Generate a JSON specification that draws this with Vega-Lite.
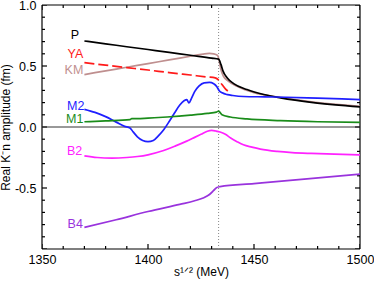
{
  "$schema": "https://vega.github.io/schema/vega-lite/v6.json",
  "width": 318,
  "height": 244,
  "autosize": "none",
  "padding": {"left": 42, "top": 5, "right": 14, "bottom": 35},
  "background": "white",
  "view": {"stroke": null},
  "datasets": {
    "xt": [{"s":1350,"m":"major"},{"s":1360,"m":"minor"},{"s":1370,"m":"minor"},{"s":1380,"m":"minor"},{"s":1390,"m":"minor"},{"s":1400,"m":"major"},{"s":1410,"m":"minor"},{"s":1420,"m":"minor"},{"s":1430,"m":"minor"},{"s":1440,"m":"minor"},{"s":1450,"m":"major"},{"s":1460,"m":"minor"},{"s":1470,"m":"minor"},{"s":1480,"m":"minor"},{"s":1490,"m":"minor"},{"s":1500,"m":"major"}],
    "yt": [{"v":-1,"m":"major"},{"v":-0.9,"m":"minor"},{"v":-0.8,"m":"minor"},{"v":-0.7,"m":"minor"},{"v":-0.6,"m":"minor"},{"v":-0.5,"m":"major"},{"v":-0.4,"m":"minor"},{"v":-0.3,"m":"minor"},{"v":-0.2,"m":"minor"},{"v":-0.1,"m":"minor"},{"v":0,"m":"major"},{"v":0.1,"m":"minor"},{"v":0.2,"m":"minor"},{"v":0.3,"m":"minor"},{"v":0.4,"m":"minor"},{"v":0.5,"m":"major"},{"v":0.6,"m":"minor"},{"v":0.7,"m":"minor"},{"v":0.8,"m":"minor"},{"v":0.9,"m":"minor"},{"v":1,"m":"major"}],
    "labels": [{"c":"P","s":1367.5,"v":0.751},{"c":"YA","s":1369.5,"v":0.595},{"c":"KM","s":1369.5,"v":0.469},{"c":"M2","s":1370,"v":0.175},{"c":"M1","s":1369.5,"v":0.068},{"c":"B2","s":1369,"v":-0.193},{"c":"B4","s":1369.3,"v":-0.796}]
  },
  "data": {"values": [
    {"c":"KM","s":1370,"v":0.43},{"c":"KM","s":1380,"v":0.46},{"c":"KM","s":1390,"v":0.49},{"c":"KM","s":1400,"v":0.52},{"c":"KM","s":1410,"v":0.55},{"c":"KM","s":1420,"v":0.58},{"c":"KM","s":1426,"v":0.598},{"c":"KM","s":1429,"v":0.603},{"c":"KM","s":1431,"v":0.6},{"c":"KM","s":1432.8,"v":0.587},{"c":"KM","s":1433.6,"v":0.54},{"c":"KM","s":1434.4,"v":0.47},{"c":"KM","s":1435.6,"v":0.416},{"c":"KM","s":1438,"v":0.375},{"c":"KM","s":1442,"v":0.334},{"c":"KM","s":1450,"v":0.282},{"c":"KM","s":1462.5,"v":0.243},{"c":"KM","s":1478,"v":0.204},{"c":"KM","s":1500,"v":0.17},
    {"c":"P","s":1370,"v":0.705},{"c":"P","s":1380,"v":0.682},{"c":"P","s":1390,"v":0.658},{"c":"P","s":1400,"v":0.635},{"c":"P","s":1410,"v":0.612},{"c":"P","s":1420,"v":0.588},{"c":"P","s":1430,"v":0.565},{"c":"P","s":1433.3,"v":0.556},{"c":"P","s":1434.4,"v":0.513},{"c":"P","s":1435.4,"v":0.458},{"c":"P","s":1437.3,"v":0.403},{"c":"P","s":1440.4,"v":0.356},{"c":"P","s":1446.7,"v":0.307},{"c":"P","s":1454.6,"v":0.266},{"c":"P","s":1462.5,"v":0.239},{"c":"P","s":1478,"v":0.2},{"c":"P","s":1500,"v":0.165},
    {"c":"YA","s":1370,"v":0.527},{"c":"YA","s":1380,"v":0.507},{"c":"YA","s":1390,"v":0.487},{"c":"YA","s":1400,"v":0.467},{"c":"YA","s":1410,"v":0.446},{"c":"YA","s":1420,"v":0.426},{"c":"YA","s":1428,"v":0.41},{"c":"YA","s":1431.7,"v":0.403},{"c":"YA","s":1433.8,"v":0.375},{"c":"YA","s":1434.9,"v":0.348},{"c":"YA","s":1436.5,"v":0.313},{"c":"YA","s":1438.5,"v":0.285},
    {"c":"M2","s":1370,"v":0.145},{"c":"M2","s":1375,"v":0.12},{"c":"M2","s":1380,"v":0.085},{"c":"M2","s":1385,"v":0.04},{"c":"M2","s":1389,"v":0.005},{"c":"M2","s":1391.5,"v":-0.008},{"c":"M2","s":1393,"v":-0.04},{"c":"M2","s":1395,"v":-0.08},{"c":"M2","s":1397.5,"v":-0.11},{"c":"M2","s":1400,"v":-0.12},{"c":"M2","s":1402.5,"v":-0.11},{"c":"M2","s":1405,"v":-0.07},{"c":"M2","s":1407.5,"v":-0.02},{"c":"M2","s":1410,"v":0.045},{"c":"M2","s":1412.5,"v":0.115},{"c":"M2","s":1415,"v":0.18},{"c":"M2","s":1417,"v":0.215},{"c":"M2","s":1418.3,"v":0.225},{"c":"M2","s":1419.3,"v":0.197},{"c":"M2","s":1420.5,"v":0.235},{"c":"M2","s":1422,"v":0.29},{"c":"M2","s":1424,"v":0.335},{"c":"M2","s":1426.5,"v":0.362},{"c":"M2","s":1429,"v":0.365},{"c":"M2","s":1431,"v":0.355},{"c":"M2","s":1432.5,"v":0.33},{"c":"M2","s":1433.5,"v":0.3},{"c":"M2","s":1435,"v":0.28},{"c":"M2","s":1437.5,"v":0.265},{"c":"M2","s":1440,"v":0.258},{"c":"M2","s":1445,"v":0.25},{"c":"M2","s":1455,"v":0.247},{"c":"M2","s":1465,"v":0.244},{"c":"M2","s":1480,"v":0.236},{"c":"M2","s":1500,"v":0.225},
    {"c":"M1","s":1370,"v":0.043},{"c":"M1","s":1380,"v":0.05},{"c":"M1","s":1391.5,"v":0.06},{"c":"M1","s":1392.3,"v":0.068},{"c":"M1","s":1395,"v":0.068},{"c":"M1","s":1400,"v":0.073},{"c":"M1","s":1409,"v":0.082},{"c":"M1","s":1420,"v":0.097},{"c":"M1","s":1428,"v":0.111},{"c":"M1","s":1432.3,"v":0.122},{"c":"M1","s":1433.3,"v":0.13},{"c":"M1","s":1434.9,"v":0.1},{"c":"M1","s":1438.8,"v":0.082},{"c":"M1","s":1446.7,"v":0.066},{"c":"M1","s":1462.5,"v":0.052},{"c":"M1","s":1480,"v":0.043},{"c":"M1","s":1500,"v":0.038},
    {"c":"B2","s":1370,"v":-0.236},{"c":"B2","s":1376,"v":-0.25},{"c":"B2","s":1383,"v":-0.255},{"c":"B2","s":1390,"v":-0.25},{"c":"B2","s":1395,"v":-0.242},{"c":"B2","s":1400,"v":-0.228},{"c":"B2","s":1407,"v":-0.195},{"c":"B2","s":1413,"v":-0.155},{"c":"B2","s":1418,"v":-0.118},{"c":"B2","s":1422,"v":-0.085},{"c":"B2","s":1425,"v":-0.06},{"c":"B2","s":1428,"v":-0.035},{"c":"B2","s":1430,"v":-0.028},{"c":"B2","s":1432,"v":-0.033},{"c":"B2","s":1434,"v":-0.041},{"c":"B2","s":1436.5,"v":-0.06},{"c":"B2","s":1439,"v":-0.09},{"c":"B2","s":1442,"v":-0.12},{"c":"B2","s":1445,"v":-0.146},{"c":"B2","s":1449,"v":-0.165},{"c":"B2","s":1453,"v":-0.181},{"c":"B2","s":1461,"v":-0.2},{"c":"B2","s":1468,"v":-0.21},{"c":"B2","s":1477,"v":-0.217},{"c":"B2","s":1488,"v":-0.223},{"c":"B2","s":1500,"v":-0.228},
    {"c":"B4","s":1370,"v":-0.823},{"c":"B4","s":1385,"v":-0.76},{"c":"B4","s":1400,"v":-0.693},{"c":"B4","s":1415,"v":-0.634},{"c":"B4","s":1422,"v":-0.605},{"c":"B4","s":1426,"v":-0.582},{"c":"B4","s":1429,"v":-0.553},{"c":"B4","s":1431,"v":-0.52},{"c":"B4","s":1432.3,"v":-0.497},{"c":"B4","s":1434,"v":-0.489},{"c":"B4","s":1450,"v":-0.464},{"c":"B4","s":1475,"v":-0.425},{"c":"B4","s":1500,"v":-0.387}
  ]},
  "layer": [
    {
      "data": {"name": "xt"},
      "mark": {"type": "tick", "orient": "vertical", "color": "#000000", "thickness": 1.2, "opacity": 1, "clip": true},
      "encoding": {
        "x": {"field": "s", "type": "quantitative", "scale": {"domain": [1350, 1500], "nice": false, "zero": false},
          "axis": {"orient": "bottom", "values": [1350, 1400, 1450, 1500], "format": "d", "ticks": false, "tickSize": 0, "domain": false, "grid": false, "labelPadding": 4, "labelFlush": false, "labelFont": "Liberation Sans Narrow, Liberation Sans", "labelFontSize": 12.5, "labelColor": "#000000", "title": "s¹ᐟ² (MeV)", "titlePadding": 1, "titleFont": "Liberation Sans", "titleFontSize": 12, "titleFontWeight": "normal", "titleColor": "#000000"}},
        "y": {"datum": -1, "type": "quantitative", "scale": {"domain": [-1, 1], "nice": false, "zero": false},
          "axis": {"orient": "left", "values": [-1, -0.5, 0, 0.5, 1], "ticks": false, "tickSize": 0, "domain": false, "grid": false, "labelPadding": 6, "labelFont": "Liberation Sans Narrow, Liberation Sans", "labelFontSize": 12.5, "labelColor": "#000000", "labelExpr": "datum.value == -1 ? '' : datum.value == -0.5 ? '-0.5' : format(datum.value, '.1f')", "title": "Real K⁻n amplitude (fm)", "titlePadding": 2, "titleFont": "Liberation Sans", "titleFontSize": 12, "titleFontWeight": "normal", "titleColor": "#000000"}},
        "size": {"field": "m", "type": "ordinal", "legend": null, "scale": {"domain": ["major", "minor"], "range": [10, 6]}}
      }
    },
    {
      "data": {"name": "xt"},
      "mark": {"type": "tick", "orient": "vertical", "color": "#000000", "thickness": 1.2, "opacity": 1, "clip": true},
      "encoding": {
        "x": {"field": "s", "type": "quantitative"},
        "y": {"datum": 1, "type": "quantitative"},
        "size": {"field": "m", "type": "ordinal", "legend": null}
      }
    },
    {
      "data": {"name": "yt"},
      "mark": {"type": "tick", "orient": "horizontal", "color": "#000000", "thickness": 1.2, "opacity": 1, "clip": true},
      "encoding": {
        "y": {"field": "v", "type": "quantitative"},
        "x": {"datum": 1350, "type": "quantitative"},
        "size": {"field": "m", "type": "ordinal", "legend": null}
      }
    },
    {
      "data": {"name": "yt"},
      "mark": {"type": "tick", "orient": "horizontal", "color": "#000000", "thickness": 1.2, "opacity": 1, "clip": true},
      "encoding": {
        "y": {"field": "v", "type": "quantitative"},
        "x": {"datum": 1500, "type": "quantitative"},
        "size": {"field": "m", "type": "ordinal", "legend": null}
      }
    },
    {
      "data": {"values": [{"s": 1350}, {"s": 1500}]},
      "mark": {"type": "rule", "color": "#000000", "strokeWidth": 1.2},
      "encoding": {"x": {"field": "s", "type": "quantitative"}}
    },
    {
      "data": {"values": [{"v": -1}, {"v": 1}]},
      "mark": {"type": "rule", "color": "#000000", "strokeWidth": 1.2},
      "encoding": {"y": {"field": "v", "type": "quantitative"}}
    },
    {
      "data": {"values": [{"s": 1433.3}]},
      "mark": {"type": "rule", "color": "#888888", "strokeWidth": 1, "strokeDash": [1, 2]},
      "encoding": {"x": {"field": "s", "type": "quantitative"}}
    },
    {
      "data": {"values": [{"v": 0}]},
      "mark": {"type": "rule", "color": "#333333", "strokeWidth": 1},
      "encoding": {"y": {"field": "v", "type": "quantitative"}}
    },
    {
      "transform": [{"filter": "datum.c != 'YA'"}],
      "mark": {"type": "line", "strokeWidth": 1.7, "interpolate": "monotone"},
      "encoding": {
        "x": {"field": "s", "type": "quantitative"},
        "y": {"field": "v", "type": "quantitative"},
        "color": {"field": "c", "type": "nominal", "legend": null,
          "scale": {"domain": ["P", "YA", "KM", "M2", "M1", "B2", "B4"], "range": ["#000000", "#ff1a1a", "#bf8f8f", "#1f1fff", "#1a8c1a", "#ff22ff", "#9933dd"]}}
      }
    },
    {
      "transform": [{"filter": "datum.c == 'YA'"}],
      "mark": {"type": "line", "strokeWidth": 1.7, "strokeDash": [10, 4], "interpolate": "monotone"},
      "encoding": {
        "x": {"field": "s", "type": "quantitative"},
        "y": {"field": "v", "type": "quantitative"},
        "color": {"field": "c", "type": "nominal", "legend": null}
      }
    },
    {
      "data": {"name": "labels"},
      "mark": {"type": "text", "align": "right", "baseline": "middle", "font": "Liberation Sans", "fontSize": 12.5},
      "encoding": {
        "x": {"field": "s", "type": "quantitative"},
        "y": {"field": "v", "type": "quantitative"},
        "text": {"field": "c"},
        "color": {"field": "c", "type": "nominal", "legend": null}
      }
    }
  ]
}
